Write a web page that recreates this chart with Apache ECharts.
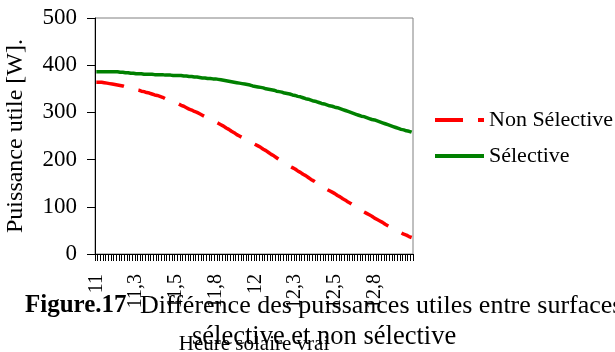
<!DOCTYPE html>
<html>
<head>
<meta charset="utf-8">
<script src="https://cdn.jsdelivr.net/npm/echarts@6/dist/echarts.min.js"></script>
<style>
html,body{margin:0;padding:0;background:#fff;}
#chart{width:615px;height:352px;}
</style>
</head>
<body>
<div id="chart"></div>
<script>
// Time categories: one per minute from 11:00 to 12:59 (decimal hours)
const categoryCount = 120;
const categories = Array.from({length: categoryCount}, (_, i) => (11 + i / 60).toFixed(4));
// Tick labels shown every 15 minutes
const tickLabels = ["11", "11,3", "11,5", "11,8", "12", "12,3", "12,5", "12,8"];
const yTicks = [0, 100, 200, 300, 400, 500];

const seriesNames = ["Non Sélective", "Sélective"];

const nonSelective = [
  364,364,364,363,362,361,360,359,358,357,
  356,354,353,351,350,348,347,
  345,344,342,341,339,337,336,334,
  332,329,327,325,323,320,318,
  315,313,310,307,305,302,300,297,
  294,291,288,285,283,280,277,274,
  271,267,264,260,257,253,250,
  247,244,241,238,235,232,229,226,
  222,219,215,211,208,204,200,
  197,193,190,186,183,180,176,173,
  169,166,162,158,155,151,147,
  144,141,137,134,131,128,124,121,
  117,114,110,107,103,100,96,
  93,89,86,83,80,76,73,70,
  67,63,60,57,54,50,47,
  45,42,40,37,35
];

const selective = [
  386,386,386,386,386,386,386,386,386,385,
  385,384,384,383,383,382,382,
  382,381,381,381,381,380,380,380,
  380,379,379,379,378,378,378,
  378,377,377,376,376,375,375,374,
  373,373,372,372,371,371,370,369,
  368,367,366,365,364,363,362,
  361,360,359,358,356,355,354,353,
  352,350,349,348,347,345,344,
  343,341,340,339,337,336,334,333,
  331,329,328,326,324,323,321,
  319,318,316,314,313,311,310,308,
  306,304,302,300,298,296,294,
  292,291,289,287,285,284,282,280,
  278,276,274,272,270,268,266,
  264,263,261,260,258
];

const serif = '"Liberation Serif", "DejaVu Serif", serif';

const chart = echarts.init(document.getElementById('chart'), null, {renderer: 'canvas'});
chart.setOption({
  animation: false,
  backgroundColor: '#ffffff',
  grid: {
    left: 95, top: 18, width: 318, height: 236,
    outerBoundsMode: 'none',
    containLabel: false,
    show: true, borderColor: '#808080', borderWidth: 1, backgroundColor: 'transparent'
  },
  legend: {
    orient: 'vertical',
    left: 433, top: 109,
    padding: 0,
    itemWidth: 49, itemHeight: 14, itemGap: 14,
    itemStyle: {opacity: 0},
    lineStyle: {width: 4},
    textStyle: {fontFamily: serif, fontSize: 22, color: '#000'},
    data: seriesNames
  },
  xAxis: {
    type: 'category',
    data: categories,
    boundaryGap: true,
    name: 'Heure solaire vrai',
    nameLocation: 'middle',
    nameGap: 80,
    nameTextStyle: {fontFamily: serif, fontSize: 21, color: '#000'},
    axisLine: {lineStyle: {color: '#000', width: 1}},
    axisTick: {show: true, interval: 0, length: 7, lineStyle: {color: '#000', width: 1}},
    axisLabel: {
      interval: 14,
      rotate: 90,
      margin: 20,
      fontFamily: serif, fontSize: 20, color: '#000',
      formatter: (v, idx) => (idx % 15 === 0 ? tickLabels[idx / 15] : '')
    },
    splitLine: {show: false}
  },
  yAxis: {
    type: 'value',
    min: yTicks[0], max: yTicks[yTicks.length - 1], interval: 100,
    name: 'Puissance utile [W].',
    nameLocation: 'middle',
    nameGap: 67,
    nameTextStyle: {fontFamily: serif, fontSize: 24, color: '#000'},
    axisLine: {show: true, lineStyle: {color: '#000', width: 1}},
    axisTick: {show: true, length: 8, lineStyle: {color: '#000', width: 1}},
    axisLabel: {margin: 18, fontFamily: serif, fontSize: 23, color: '#000'},
    splitLine: {show: false}
  },
  series: [
    {
      name: seriesNames[0], type: 'line', data: nonSelective,
      symbol: 'none', showSymbol: false, smooth: false,
      lineStyle: {color: '#ff0000', width: 3.5, type: [28, 15], cap: 'butt'},
      itemStyle: {color: '#ff0000'}
    },
    {
      name: seriesNames[1], type: 'line', data: selective,
      symbol: 'none', showSymbol: false, smooth: false,
      lineStyle: {color: '#008000', width: 3.5, type: 'solid'},
      itemStyle: {color: '#008000'}
    }
  ],
  graphic: [
    {type: 'text', left: 25, top: 293, z: 100,
     style: {text: 'Figure.17', fontFamily: serif, fontSize: 25, fontWeight: 'bold', fill: '#000'}},
    {type: 'text', left: 140, top: 293, z: 100,
     style: {text: 'Différence des puissances utiles entre surfaces', fontFamily: serif, fontSize: 26, fill: '#000'}},
    {type: 'text', left: 192, top: 324, z: 100,
     style: {text: 'sélective et non sélective', fontFamily: serif, fontSize: 26.5, fill: '#000'}}
  ]
});
</script>
</body>
</html>
